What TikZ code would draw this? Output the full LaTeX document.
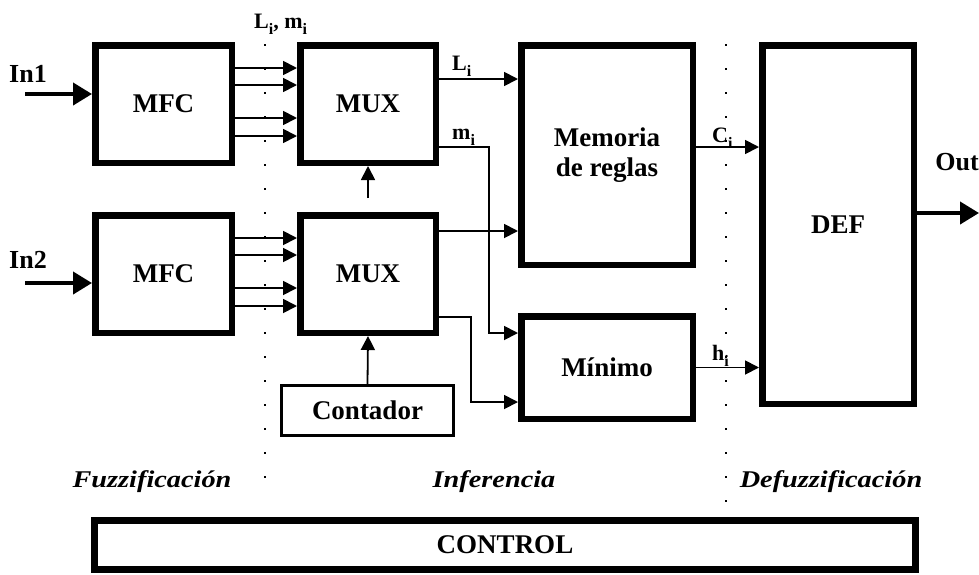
\documentclass[tikz,border=0pt]{standalone}
\usepackage{fontspec}
\setmainfont{Liberation Serif}
\newfontfamily\stagefont[FakeStretch=1.18]{Liberation Serif}
\usepackage{tikz}
\usetikzlibrary{arrows.meta, positioning}
\newcommand{\sub}[1]{\raisebox{-0.28em}{\fontsize{16}{16}\selectfont #1}}

\begin{document}
\begin{tikzpicture}[
    x=1pt, y=-1pt,
    block/.style={rectangle, draw, line width=6.5pt, inner sep=0pt, align=center, font=\fontsize{27}{30}\selectfont\bfseries},
    smallblock/.style={block, line width=3pt},
    lbl/.style={inner sep=0pt, font=\fontsize{22}{24}\selectfont\bfseries},
    io/.style={inner sep=0pt, font=\fontsize{26}{28}\selectfont\bfseries},
    stage/.style={inner sep=0pt, font=\fontsize{24}{26}\stagefont\bfseries\itshape},
    arrow/.style={line width=1.8pt, -{Triangle[length=14pt, width=14pt]}},
    bigarrow/.style={line width=4pt, -{Triangle[length=19pt, width=22pt]}},
    sep/.style={line width=1.6pt, dash pattern=on 1.6pt off 22.4pt}
]
    \useasboundingbox (0,0) rectangle (979,574);

    % bloques
    \node[block, minimum width=136.5pt, minimum height=117.5pt] (mfc1) at (163.5,104) {MFC};
    \node[block, minimum width=135.5pt, minimum height=117.5pt] (mux1) at (368,104) {MUX};
    \node[block, minimum width=136.5pt, minimum height=117.5pt] (mfc2) at (163.5,274) {MFC};
    \node[block, minimum width=135.5pt, minimum height=117.5pt] (mux2) at (368,274) {MUX};
    \node[smallblock, minimum width=172pt, minimum height=50pt] (cnt) at (367.5,410.5) {Contador};
    \node[block, minimum width=171.5pt, minimum height=219.5pt] (mem) at (607,155) {Memoria\\de reglas};
    \node[block, minimum width=171.5pt, minimum height=102.5pt] (mini) at (607,367.5) {Mínimo};
    \node[block, minimum width=151.5pt, minimum height=358.5pt] (def) at (838,224.5) {DEF};
    \node[block, minimum width=821pt, minimum height=49pt] (ctrl) at (505,545) {CONTROL};

    % separadores
    \draw[sep] (265,44) -- (265,484);
    \draw[sep] (726,44) -- (726,504);

    % entradas y salida
    \coordinate (in1) at (25,94);
    \coordinate (in2) at (25,283);
    \coordinate (out) at (979,213);
    \coordinate (sel) at (368,198);
    \node[io, anchor=south west] (in1lbl) at (9,83) {In1};
    \node[io, anchor=south west] (in2lbl) at (9,269) {In2};
    \node[io, anchor=south east] (outlbl) at (979,171) {Out};
    \draw[bigarrow] (in1) -- (in1 -| mfc1.west);
    \draw[bigarrow] (in2) -- (in2 -| mfc2.west);
    \draw[bigarrow] (out -| def.east) -- (out);

    % MFC -> MUX
    \foreach \dy in {36,19,-14,-32} {
        \draw[arrow] ([yshift=\dy pt]mfc1.east) -- ([yshift=\dy pt]mux1.west);
        \draw[arrow] ([yshift=\dy pt]mfc2.east) -- ([yshift=\dy pt]mux2.west);
    }
    \node[lbl, anchor=base west] (limi) at (254,28) {L\sub{i}, m\sub{i}};

    \draw[arrow] (sel) -- (mux1.south);
    \draw[arrow] (cnt.north) -- (mux2.south);

    % inferencia
    \draw[arrow] ([yshift=25pt]mux1.east) -- ([yshift=25pt]mux1.east -| mem.west);
    \draw[arrow] ([yshift=-43pt]mux1.east) -- ++(50,0) |- ([yshift=34.5pt]mini.west);
    \draw[arrow] ([yshift=43pt]mux2.east) -- ([yshift=43pt]mux2.east -| mem.west);
    \draw[arrow] ([yshift=-43pt]mux2.east) -- ++(32,0) |- ([yshift=-34.5pt]mini.west);
    \node[lbl, anchor=base west] (li) at (452,70) {L\sub{i}};
    \node[lbl, anchor=base west] (mi) at (452,139) {m\sub{i}};

    % defuzzificacion
    \draw[arrow] ([yshift=8pt]mem.east) -- ([yshift=8pt]mem.east -| def.west);
    \draw[arrow] (mini.east) -- (mini.east -| def.west);
    \node[lbl, anchor=base west] (ci) at (712,142) {C\sub{i}};
    \node[lbl, anchor=base west] (hi) at (712,360) {h\sub{i}};

    % etapas
    \node[stage] (fuz) at (152,482) {Fuzzificación};
    \node[stage] (inf) at (494,482) {Inferencia};
    \node[stage] (dfz) at (831,482) {Defuzzificación};
\end{tikzpicture}
\end{document}
